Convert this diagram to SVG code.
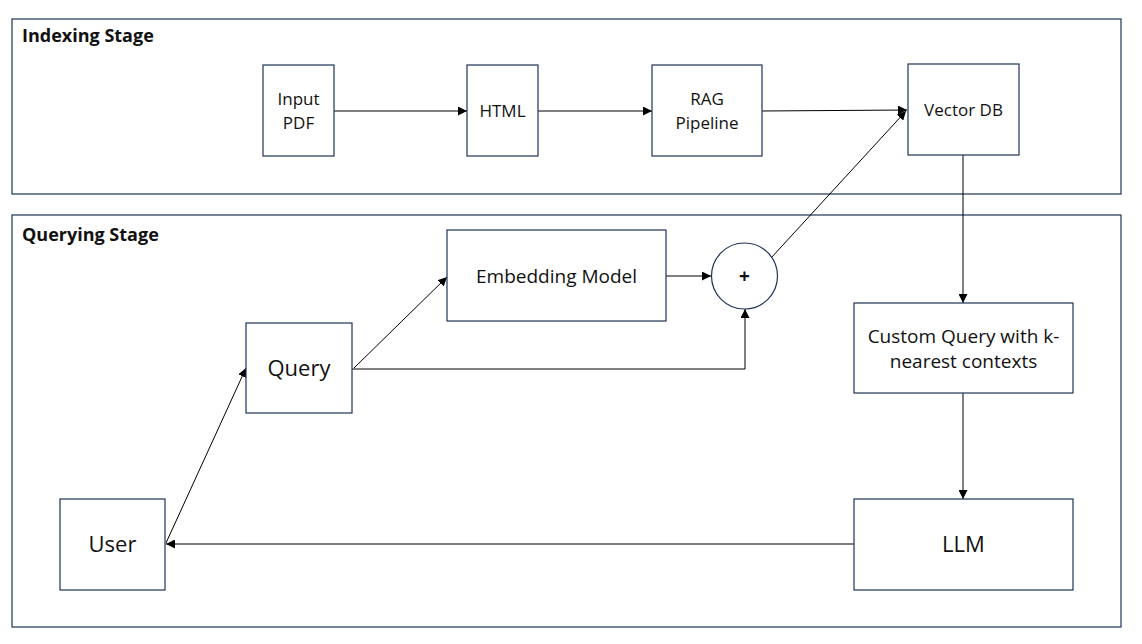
<svg xmlns="http://www.w3.org/2000/svg" width="1142" height="644" viewBox="0 0 1142 644">
<style>
.box{fill:#fff;stroke:#1f3358;stroke-width:1.2}
.stage{fill:none;stroke:#1f3358;stroke-width:1.2}
.t{font-family:"Open Sans","Noto Sans",sans-serif;font-size:17px;fill:#111;text-anchor:middle}
.tm{font-family:"Open Sans","Noto Sans",sans-serif;font-size:19px;fill:#111;text-anchor:middle}
.tl{font-family:"Open Sans","Noto Sans",sans-serif;font-size:22px;fill:#111;text-anchor:middle}
.title{font-family:"Open Sans","Noto Sans",sans-serif;font-size:18px;font-weight:bold;fill:#111}
.c{fill:none;stroke:#000;stroke-width:1}
</style>
<defs>
<marker id="ah" viewBox="0 0 10 10" refX="10" refY="5" markerWidth="9" markerHeight="9" markerUnits="userSpaceOnUse" orient="auto">
<path d="M0,0 L10,5 L0,10 z" fill="#000"/>
</marker>
</defs>
<rect width="1142" height="644" fill="#fff"/>
<g id="indexing-stage">
<rect class="stage" x="12" y="19" width="1109" height="175"/>
<text class="title" x="22" y="42">Indexing Stage</text>
</g>
<g id="querying-stage">
<rect class="stage" x="12" y="215" width="1109" height="412"/>
<text class="title" x="22" y="241">Querying Stage</text>
</g>
<g id="connectors">
<line class="c" x1="334" y1="111" x2="467" y2="111" marker-end="url(#ah)"/>
<line class="c" x1="538" y1="111" x2="652" y2="111" marker-end="url(#ah)"/>
<line class="c" x1="762" y1="111" x2="907" y2="110" marker-end="url(#ah)"/>
<line class="c" x1="771" y1="258" x2="906" y2="111" marker-end="url(#ah)"/>
<line class="c" x1="963" y1="155" x2="963" y2="303" marker-end="url(#ah)"/>
<line class="c" x1="963" y1="393" x2="963" y2="499" marker-end="url(#ah)"/>
<line class="c" x1="854" y1="544" x2="166" y2="544" marker-end="url(#ah)"/>
<line class="c" x1="166" y1="543" x2="246" y2="368" marker-end="url(#ah)"/>
<line class="c" x1="354" y1="368" x2="447" y2="277" marker-end="url(#ah)"/>
<line class="c" x1="666" y1="276" x2="711" y2="276" marker-end="url(#ah)"/>
<polyline class="c" points="352,369 745,369 745,309" marker-end="url(#ah)"/>
</g>
<g id="input-pdf">
<rect class="box" x="263" y="65" width="71" height="91"/>
<text class="t" x="298.5" y="105">Input</text>
<text class="t" x="298.5" y="129">PDF</text>
</g>
<g id="html">
<rect class="box" x="467" y="65" width="71" height="91"/>
<text class="t" x="502.5" y="117">HTML</text>
</g>
<g id="rag-pipeline">
<rect class="box" x="652" y="65" width="110" height="91"/>
<text class="t" x="707" y="105">RAG</text>
<text class="t" x="707" y="129">Pipeline</text>
</g>
<g id="vector-db">
<rect class="box" x="908" y="64" width="111" height="91"/>
<text class="t" x="963.5" y="116">Vector DB</text>
</g>
<g id="embedding-model">
<rect class="box" x="447" y="230" width="219" height="91"/>
<text class="tm" x="556.5" y="283">Embedding Model</text>
</g>
<g id="plus">
<circle class="box" cx="744.5" cy="276" r="33"/>
<text class="tm" x="744.5" y="283" font-weight="bold">+</text>
</g>
<g id="query">
<rect class="box" x="246" y="323" width="106" height="90"/>
<text class="tl" x="299" y="376">Query</text>
</g>
<g id="custom-query">
<rect class="box" x="854" y="303" width="219" height="90"/>
<text class="tm" x="963.5" y="343">Custom Query with k-</text>
<text class="tm" x="963.5" y="368">nearest contexts</text>
</g>
<g id="llm">
<rect class="box" x="854" y="499" width="219" height="91"/>
<text class="tl" x="963.5" y="552">LLM</text>
</g>
<g id="user">
<rect class="box" x="60" y="499" width="105" height="91"/>
<text class="tl" x="112.5" y="552">User</text>
</g>
</svg>
